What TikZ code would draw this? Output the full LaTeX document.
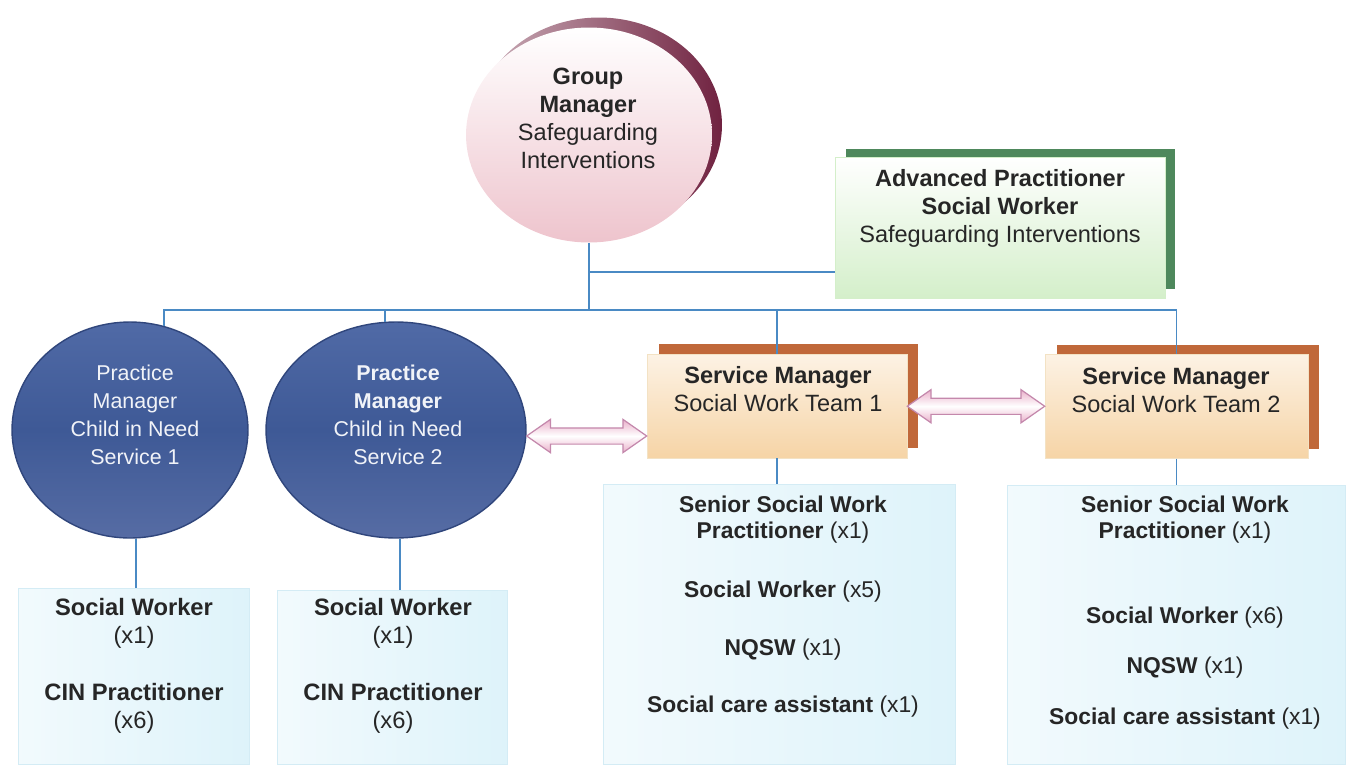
\documentclass[tikz,border=0pt]{standalone}
\usepackage{fontspec}
\setmainfont{Liberation Sans}
\usetikzlibrary{shapes.geometric, shapes.arrows, shadows, calc}
\definecolor{linkblue}{RGB}{74,138,196}
\definecolor{inkgrey}{RGB}{38,38,38}
\definecolor{gmpink}{RGB}{238,196,205}
\definecolor{gmshadow}{RGB}{112,34,64}
\definecolor{apgreen}{RGB}{212,239,202}
\definecolor{apshadow}{RGB}{78,136,92}
\definecolor{pmtop}{RGB}{80,106,166}
\definecolor{pmmid}{RGB}{62,89,150}
\definecolor{pmbot}{RGB}{86,108,164}
\definecolor{pmrim}{RGB}{48,70,124}
\definecolor{smpeach}{RGB}{246,212,166}
\definecolor{smrim}{RGB}{243,226,196}
\definecolor{smshadow}{RGB}{192,104,58}
\definecolor{staffcyan}{RGB}{222,243,250}
\definecolor{staffrim}{RGB}{212,236,245}
\definecolor{arrowpink}{RGB}{234,176,202}
\definecolor{arrowrim}{RGB}{196,136,172}
\tikzset{link/.style={draw=linkblue,line width=1pt},
         gmcircle/.style={ellipse,minimum width=4.92cm,minimum height=4.3cm,inner sep=0pt,top color=white,bottom color=gmpink,general shadow={shadow xshift=0.2cm,shadow yshift=0.2cm,left color=gmshadow!35!white,right color=gmshadow}},
         pmcircle/.style={ellipse,minimum height=4.32cm,inner sep=0pt,draw=pmrim,line width=0.8pt,top color=pmtop,bottom color=pmbot,middle color=pmmid},
         apbox/.style={rectangle,minimum width=6.6cm,minimum height=2.82cm,inner sep=0pt,draw=apgreen,top color=white,bottom color=apgreen,general shadow={shadow xshift=0.21cm,shadow yshift=0.17cm,fill=apshadow}},
         smbox/.style={rectangle,minimum height=2.08cm,inner sep=0pt,draw=smrim,top color=white!70!smpeach,bottom color=smpeach,general shadow={shadow xshift=0.23cm,shadow yshift=0.2cm,fill=smshadow}},
         staffbox/.style={rectangle,inner sep=0pt,draw=staffrim,left color=white!60!staffcyan,right color=staffcyan},
         duo/.style={double arrow,double arrow head extend=0.17cm,double arrow tip angle=70,inner xsep=0pt,inner ysep=0.15cm,draw=arrowrim,line width=0.7pt,top color=arrowpink,bottom color=arrowpink,middle color=white},
         darktext/.style={align=center,text=inkgrey,inner sep=0pt,font=\fontsize{13.4pt}{15.9pt}\selectfont},
         lighttext/.style={align=center,text=white!92!pmtop,inner sep=0pt,font=\fontsize{12.2pt}{15.9pt}\selectfont},
         stafftext/.style={align=center,text=inkgrey,inner sep=0pt,font=\fontsize{13pt}{14.8pt}\selectfont},
        }

\begin{document}
\begin{tikzpicture}[x=0.02cm,y=-0.02cm]
        \useasboundingbox(0,0)rectangle(1354,764);
        \coordinate(branch)at(0,272);
        \coordinate(bus)at(0,310);

        \node[gmcircle](gm)at(589,135){};
        \node[darktext](gmt)at(588,118){\textbf{Group}\\\textbf{Manager}\\Safeguarding\\Interventions};
        \node[apbox](apsw)at(1000,227.5){};
        \node[darktext](apswt)at(1000,208){\textbf{Advanced Practitioner}\\\textbf{Social Worker}\\Safeguarding Interventions};

        \node[pmcircle,minimum width=4.72cm](pm1)at(130,430){};
        \node[lighttext](pm1t)at(135,415){Practice\\Manager\\Child in Need\\Service 1};
        \node[pmcircle,minimum width=5.2cm](pm2)at(396,430){};
        \node[lighttext](pm2t)at(398,415){\textbf{Practice}\\\textbf{Manager}\\Child in Need\\Service 2};

        \node[smbox,minimum width=5.2cm](sm1)at(777,406){};
        \node[darktext](sm1t)at(778,389){\textbf{Service Manager}\\Social Work Team 1};
        \node[smbox,minimum width=5.26cm](sm2)at(1176.5,406.5){};
        \node[darktext](sm2t)at(1176,390){\textbf{Service Manager}\\Social Work Team 2};

        \node[staffbox,minimum width=4.62cm,minimum height=3.52cm](cin1)at(133.5,676){};
        \node[stafftext,font=\fontsize{13.5pt}{15.9pt}\selectfont](cin1t)at(134,666){\textbf{Social Worker}\\(x1)\\[16.5pt]\textbf{CIN Practitioner}\\(x6)};
        \node[staffbox,minimum width=4.6cm,minimum height=3.48cm](cin2)at(392,677){};
        \node[stafftext,font=\fontsize{13.5pt}{15.9pt}\selectfont](cin2t)at(393,666){\textbf{Social Worker}\\(x1)\\[16.5pt]\textbf{CIN Practitioner}\\(x6)};
        \node[staffbox,minimum width=7.04cm,minimum height=5.6cm](sw1)at(779,624){};
        \node[stafftext](sw1t)at(783,607){\textbf{Senior Social Work}\\\textbf{Practitioner} (x1)\\[18.8pt]\textbf{Social Worker} (x5)\\[18.2pt]\textbf{NQSW} (x1)\\[17.6pt]\textbf{Social care assistant} (x1)};
        \node[staffbox,minimum width=6.76cm,minimum height=5.58cm](sw2)at(1176,624.5){};
        \node[stafftext](sw2t)at(1185,612.5){\textbf{Senior Social Work}\\\textbf{Practitioner} (x1)\\[33.6pt]\textbf{Social Worker} (x6)\\[13.7pt]\textbf{NQSW} (x1)\\[13.7pt]\textbf{Social care assistant} (x1)};

        \draw[link](gm.south)--(gm.south|-bus);
        \draw[link](gm.south|-branch)--(apsw.west|-branch);
        \draw[link](pm1.72)|-(sm2.north|-bus)--(sm2.north);
        \draw[link](pm2.96)--(pm2.96|-bus);
        \draw[link](sm1.north)--(sm1.north|-bus);

        \draw[link](pm1.-87)--(pm1.-87|-cin1.north);
        \draw[link](pm2.-88)--(pm2.-88|-cin2.north);
        \draw[link](sm1.south)--(sm1.south|-sw1.north);
        \draw[link](sm2.south)--(sm2.south|-sw2.north);

        \path let \p1=(pm2.east),\p2=(sm1.west) in node[duo,minimum height=\x2-\x1,yshift=-0.36cm](link1)at($(\p1)!.5!(\p2)$){};
        \path let \p1=(sm1.east),\p2=(sm2.west) in node[duo,minimum height=\x2-\x1](link2)at($(\p1)!.5!(\p2)$){};
\end{tikzpicture}
\end{document}
